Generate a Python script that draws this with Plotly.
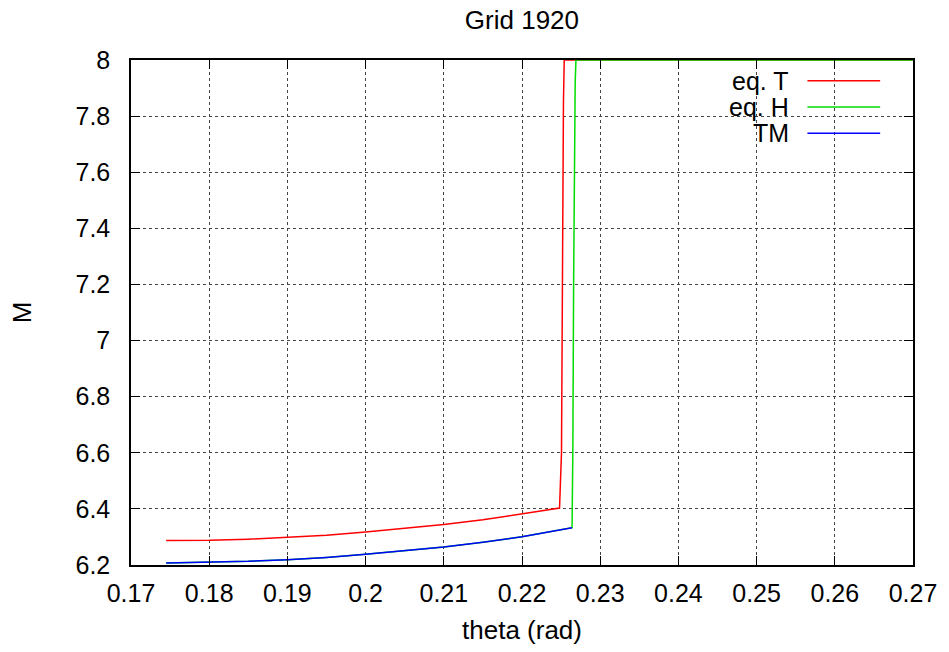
import plotly.graph_objects as go

# Data
eqT_x = [0.1745, 0.18, 0.185, 0.19, 0.195, 0.20, 0.205, 0.21, 0.215, 0.22, 0.2248,
         0.22505, 0.2251, 0.2252, 0.2253, 0.2254, 0.27]
eqT_y = [6.287, 6.288, 6.292, 6.298, 6.306, 6.318, 6.330, 6.344, 6.361, 6.382, 6.403,
         6.60, 7.00, 7.50, 7.85, 8.00, 8.00]

eqH_x = [0.1745, 0.18, 0.185, 0.19, 0.195, 0.20, 0.205, 0.21, 0.215, 0.22, 0.2264,
         0.2265, 0.2266, 0.2267, 0.2268, 0.2269, 0.27]
eqH_y = [6.207, 6.209, 6.213, 6.219, 6.227, 6.238, 6.250, 6.264, 6.281, 6.301, 6.333,
         6.60, 7.20, 7.70, 7.92, 8.00, 8.00]

TM_x = [0.1745, 0.18, 0.185, 0.19, 0.195, 0.20, 0.205, 0.21, 0.215, 0.22, 0.2264]
TM_y = [6.207, 6.209, 6.213, 6.219, 6.227, 6.238, 6.250, 6.264, 6.281, 6.301, 6.333]

series_names = ["eq. T", "eq. H", "TM"]
series_colors = ["#ff0000", "#00dd00", "#0000ff"]

x_ticks = [0.17, 0.18, 0.19, 0.20, 0.21, 0.22, 0.23, 0.24, 0.25, 0.26, 0.27]
x_tick_labels = ["0.17", "0.18", "0.19", "0.2", "0.21", "0.22", "0.23", "0.24", "0.25", "0.26", "0.27"]
y_ticks = [6.2, 6.4, 6.6, 6.8, 7.0, 7.2, 7.4, 7.6, 7.8, 8.0]
y_tick_labels = ["6.2", "6.4", "6.6", "6.8", "7", "7.2", "7.4", "7.6", "7.8", "8"]

FONT = "Liberation Sans, Arial, sans-serif"
FS = 25

fig = go.Figure()
for xs, ys, name, col in [(eqT_x, eqT_y, series_names[0], series_colors[0]),
                          (eqH_x, eqH_y, series_names[1], series_colors[1]),
                          (TM_x, TM_y, series_names[2], series_colors[2])]:
    fig.add_trace(go.Scatter(x=xs, y=ys, mode="lines", name=name,
                             line=dict(color=col, width=1.5), showlegend=False))

# Manual gnuplot-style legend (text right, sample line after it)
legend_y = [0.959, 0.907, 0.855]
for name, col, ly in zip(series_names, series_colors, legend_y):
    fig.add_annotation(xref="paper", yref="paper", x=0.844, y=ly, text=name,
                       showarrow=False, xanchor="right", yanchor="middle",
                       font=dict(family=FONT, size=FS, color="black"))
    fig.add_shape(type="line", xref="paper", yref="paper",
                  x0=0.865, x1=0.958, y0=ly, y1=ly,
                  line=dict(color=col, width=1.5))

axis_common = dict(showline=True, linecolor="black", linewidth=1.5, mirror="allticks",
                   ticks="inside", ticklen=9, tickcolor="black", tickwidth=1,
                   showgrid=True, gridcolor="#444444", griddash="dot", gridwidth=1,
                   zeroline=False, tickfont=dict(family=FONT, size=FS, color="black"))

fig.update_layout(
    width=949, height=652,
    margin=dict(l=131, r=34, t=60, b=87),
    paper_bgcolor="white", plot_bgcolor="white",
    title=dict(text="Grid 1920", x=0.55, xanchor="center", y=0.97, yanchor="middle",
               font=dict(family=FONT, size=26, color="black")),
    xaxis=dict(range=[0.17, 0.27], tickvals=x_ticks, ticktext=x_tick_labels,
               ticklabelstandoff=5,
               title=dict(text="theta (rad)", font=dict(family=FONT, size=26, color="black"), standoff=15),
               **axis_common),
    yaxis=dict(range=[6.2, 8.0], tickvals=y_ticks, ticktext=y_tick_labels,
               ticklabelstandoff=14,
               title=dict(text="M", font=dict(family=FONT, size=26, color="black"), standoff=36),
               **axis_common),
)

fig.write_html("out.html")
